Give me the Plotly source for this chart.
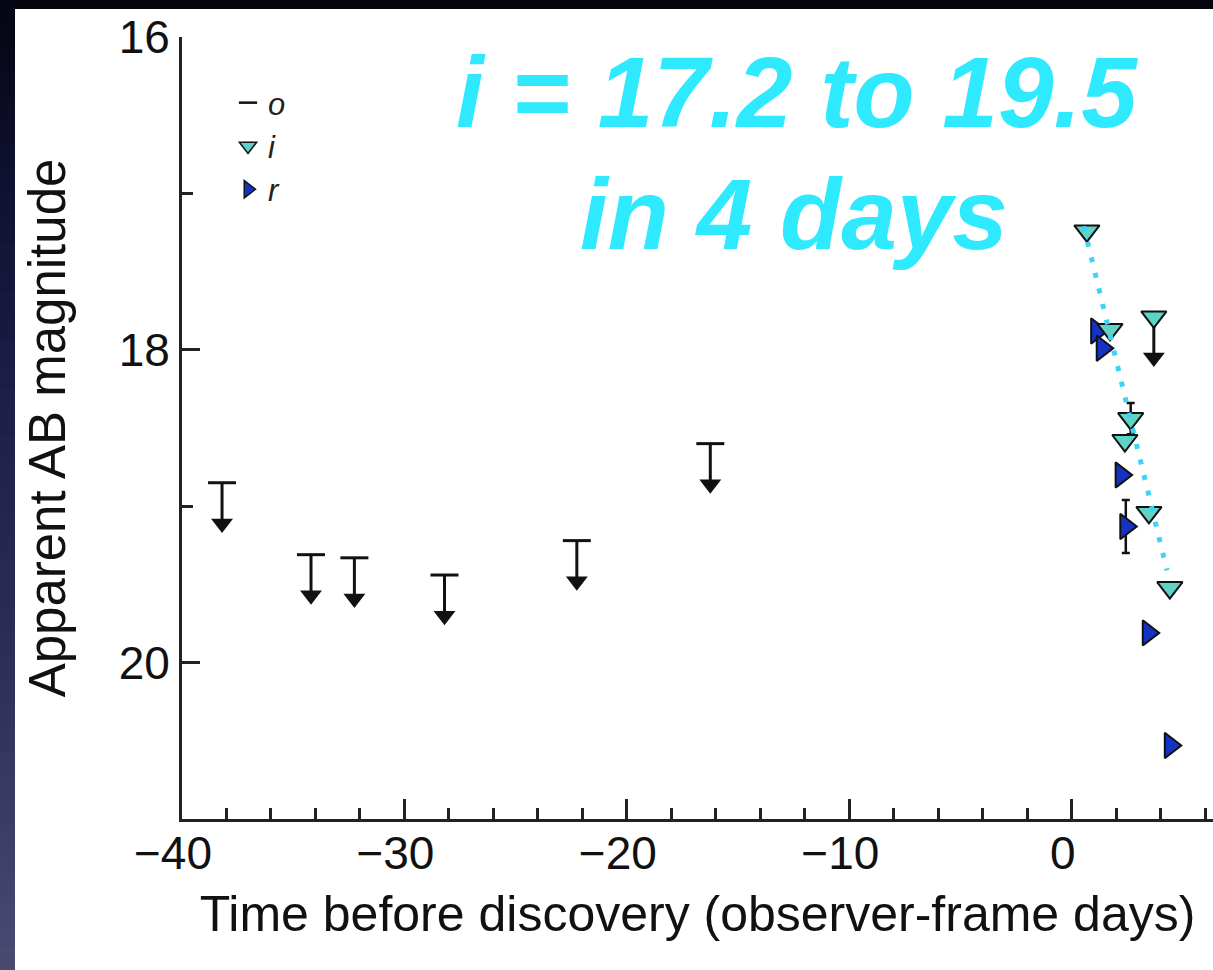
import plotly.graph_objects as go

# ---------------- data ----------------
# black (o-band) upper limits: time (days), limiting magnitude
LIM_T = [-38.2, -34.2, -32.25, -28.2, -22.25, -16.25]
LIM_MAG = [18.85, 19.31, 19.33, 19.44, 19.22, 18.60]

# i-band detections
I_T = [0.68, 1.72, 2.39, 2.65, 3.47, 4.41]
I_MAG = [17.24, 17.87, 18.58, 18.44, 19.04, 19.52]
I_ERR = [0.0, 0.0, 0.0, 0.10, 0.0, 0.0]

# i-band upper limit
I_LIM_T = [3.69]
I_LIM_MAG = [17.79]

# r-band detections
R_T = [1.12, 1.37, 2.22, 2.43, 3.44, 4.43]
R_MAG = [17.88, 17.99, 18.80, 19.13, 19.81, 20.53]
R_ERR = [0.0, 0.0, 0.0, 0.17, 0.0, 0.0]

# dotted decline guide (start / end)
FIT_T = [0.54, 4.28]
FIT_MAG = [17.21, 19.41]

X_TICKS = [-40, -30, -20, -10, 0]
Y_TICKS = [16, 18, 20]
LEGEND_NAMES = ["o", "i", "r"]
NOTE_LINES = ["i = 17.2 to 19.5", "in 4 days"]

# ---------------- styling ----------------
FONT = "Liberation Sans, Arial, Helvetica, sans-serif"
I_COLOR = "#5fd3c6"
R_COLOR = "#1632c4"
CYAN = "#2fe9ff"
DOT_COLOR = "#3dd3f7"
ARROW_LEN = 0.26  # mag offset of arrow head below the limit bar

W, H = 1213, 970
ML, MR, MT, MB = 182, 0, 37, 151
PW, PH = W - ML - MR, H - MT - MB


def px_x(px):
    return (px - ML) / PW


def px_y(py):
    return (H - MB - py) / PH


fig = go.Figure()


def add_limits(t, mag, bar_symbol, bar_kw):
    # bar / symbol at the limit, with a stem going to fainter magnitudes
    fig.add_trace(go.Scatter(
        x=t, y=mag, mode="markers", showlegend=False, hoverinfo="skip",
        marker=bar_kw | dict(symbol=bar_symbol),
        error_y=dict(type="data", symmetric=False,
                     array=[ARROW_LEN] * len(t), arrayminus=[0] * len(t),
                     color="#111", thickness=3, width=0),
    ))
    fig.add_trace(go.Scatter(
        x=t, y=[m + ARROW_LEN for m in mag], mode="markers",
        showlegend=False, hoverinfo="skip",
        marker=dict(symbol="triangle-down", size=19, color="#111",
                    line=dict(width=0)),
    ))


# black upper limits
add_limits(LIM_T, LIM_MAG, "line-ew",
           dict(size=20, color="#111", line=dict(width=3, color="#111")))
# i-band upper limit
add_limits(I_LIM_T, I_LIM_MAG, "triangle-down",
           dict(size=22, color=I_COLOR, line=dict(width=2, color="#111")))

# r-band detections
fig.add_trace(go.Scatter(
    x=R_T, y=R_MAG, mode="markers", showlegend=False,
    marker=dict(symbol="triangle-right", size=22, color=R_COLOR,
                line=dict(width=2, color="#111")),
    error_y=dict(type="data", array=R_ERR, color="#111", thickness=2.5,
                 width=4),
))
# i-band detections
fig.add_trace(go.Scatter(
    x=I_T, y=I_MAG, mode="markers", showlegend=False,
    marker=dict(symbol="triangle-down", size=22, color=I_COLOR,
                line=dict(width=2, color="#111")),
    error_y=dict(type="data", array=I_ERR, color="#111", thickness=2.5,
                 width=4),
))
# dotted guide
fig.add_trace(go.Scatter(
    x=FIT_T, y=FIT_MAG, mode="lines", showlegend=False, hoverinfo="skip",
    line=dict(color=DOT_COLOR, width=5, dash="5px,11px"),
))

# legend-only entries
legend_markers = [
    dict(symbol="line-ew", size=13, color="#111", line=dict(width=2.5, color="#111")),
    dict(symbol="triangle-down", size=15, color=I_COLOR, line=dict(width=1.5, color="#111")),
    dict(symbol="triangle-right", size=15, color=R_COLOR, line=dict(width=1.5, color="#111")),
]
for name, mk in zip(LEGEND_NAMES, legend_markers):
    fig.add_trace(go.Scatter(x=[None], y=[None], mode="markers",
                             name=f"<i>{name}</i>", marker=mk))

# dark slide frame (top strip and left gradient strip)
shapes = [dict(type="rect", xref="paper", yref="paper", layer="below",
               x0=px_x(0), x1=px_x(W), y0=px_y(9), y1=px_y(0),
               fillcolor="#04040c", line=dict(width=0))]
stops = [(0, (5, 5, 18)), (150, (14, 14, 44)), (400, (30, 30, 72)),
         (650, (44, 44, 86)), (850, (62, 62, 104)), (970, (74, 75, 112))]
N = 40
for k in range(N):
    y0p, y1p = k * H / N, (k + 1) * H / N
    ym = (y0p + y1p) / 2
    for (a, ca), (b, cb) in zip(stops[:-1], stops[1:]):
        if a <= ym <= b:
            f = (ym - a) / (b - a)
            c = tuple(int(round(ca[j] + f * (cb[j] - ca[j]))) for j in range(3))
            break
    shapes.append(dict(type="rect", xref="paper", yref="paper", layer="below",
                       x0=px_x(0), x1=px_x(15), y0=px_y(y1p + 1), y1=px_y(y0p),
                       fillcolor="rgb(%d,%d,%d)" % c, line=dict(width=0)))

annotations = [
    dict(text=f"<b><i>{NOTE_LINES[0]}</i></b>", xref="paper", yref="paper",
         x=px_x(797), y=px_y(92), xanchor="center", yanchor="middle",
         showarrow=False, font=dict(family=FONT, size=100, color=CYAN)),
    dict(text=f"<b><i>{NOTE_LINES[1]}</i></b>", xref="paper", yref="paper",
         x=px_x(794), y=px_y(214), xanchor="center", yanchor="middle",
         showarrow=False, font=dict(family=FONT, size=100, color=CYAN)),
]

fig.update_layout(
    width=W, height=H,
    margin=dict(l=ML, r=MR, t=MT, b=MB, pad=0),
    paper_bgcolor="white", plot_bgcolor="white",
    font=dict(family=FONT, color="#111"),
    shapes=shapes, annotations=annotations,
    showlegend=True,
    legend=dict(x=px_x(228), y=px_y(76), xanchor="left", yanchor="top",
                bgcolor="rgba(0,0,0,0)", font=dict(size=31, family=FONT, color="#222"),
                itemclick=False, tracegroupgap=0),
)

fig.update_xaxes(
    range=[-40, 6.35], tickmode="linear", tick0=X_TICKS[0],
    dtick=X_TICKS[1] - X_TICKS[0],
    ticks="inside", ticklen=20, tickwidth=3, tickcolor="#222",
    minor=dict(tickmode="linear", ticks="inside", ticklen=11, tickwidth=3,
               tickcolor="#222", dtick=2, tick0=0),
    showline=True, linecolor="#222", linewidth=3, showgrid=False, zeroline=False,
    tickfont=dict(size=46, family=FONT, color="#111"),
    ticklabelshift=-9, ticklabelstandoff=-8,
    title=dict(text="Time before discovery (observer-frame days)",
               font=dict(size=50, family=FONT, color="#111"), standoff=18),
)
fig.update_yaxes(
    range=[21, 16], tickmode="linear", tick0=Y_TICKS[0],
    dtick=Y_TICKS[1] - Y_TICKS[0],
    ticks="inside", ticklen=18, tickwidth=3, tickcolor="#222",
    minor=dict(tickmode="linear", ticks="inside", ticklen=11, tickwidth=3,
               tickcolor="#222", dtick=1, tick0=16),
    showline=True, linecolor="#222", linewidth=3, showgrid=False, zeroline=False,
    tickfont=dict(size=46, family=FONT, color="#111"),
    title=dict(text="Apparent AB magnitude",
               font=dict(size=51, family=FONT, color="#111"), standoff=37),
)

fig.write_html("out.html")
